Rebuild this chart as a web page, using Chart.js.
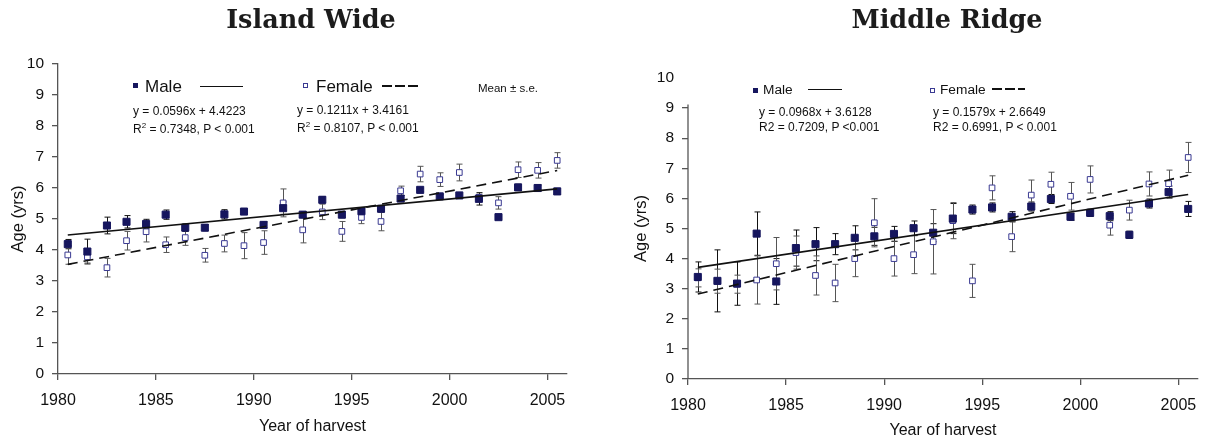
<!DOCTYPE html>
<html lang="en">
<head>
<meta charset="UTF-8">
<title>Age at harvest by year</title>
<script src="https://cdn.jsdelivr.net/npm/chart.js"></script>
<style>
  body { margin: 0; background: #fff; font-family: "Liberation Sans", Arial, sans-serif; }
  #wrap { position: relative; width: 1217px; height: 440px; overflow: hidden; }
  canvas { position: absolute; top: 0; }
  .t { position: absolute; white-space: nowrap; color: #111; line-height: 1; transform: translateY(-50%); }
  .title { position: absolute; white-space: nowrap; font-family: "DejaVu Serif", serif; font-weight: bold;
           font-size: 25.5px; color: #1c1c1c; transform: translate(-50%, -50%); line-height: 1; }
  .sq { position: absolute; width: 5px; height: 5px; box-sizing: border-box; }
  .sq.m { background: #16165e; }
  .sq.f { background: #fff; border: 1px solid #3a3a92; }
  .ln { position: absolute; height: 0; border-top: 1.6px solid #111; }
  .dash { position: absolute; height: 2px;
          background: repeating-linear-gradient(90deg, #111 0 10px, transparent 10px 13px); }
</style>
</head>
<body>
<div id="wrap">
  <canvas id="islandChart" width="608" height="440" style="left:0;width:608px;height:440px"></canvas>
  <canvas id="ridgeChart" width="609" height="440" style="left:608px;width:609px;height:440px"></canvas>

  <div class="title" style="left:311px;top:20px">Island Wide</div>
  <div class="title" style="left:947px;top:20px">Middle Ridge</div>

  <!-- Island Wide legend -->
  <div class="sq m" style="left:133px;top:83px"></div>
  <div class="t" style="left:145px;top:86px;font-size:17px">Male</div>
  <div class="ln" style="left:200px;top:86px;width:43px"></div>
  <div class="sq f" style="left:303px;top:83px"></div>
  <div class="t" style="left:316px;top:86px;font-size:17px">Female</div>
  <div class="dash" style="left:382px;top:85px;width:36px"></div>
  <div class="t" style="left:478px;top:89px;font-size:11.5px">Mean ± s.e.</div>
  <div class="t" style="left:133px;top:111px;font-size:12px">y = 0.0596x + 4.4223</div>
  <div class="t" style="left:133px;top:128px;font-size:12px">R<sup style="font-size:8px;vertical-align:5px">2</sup> = 0.7348, P &lt; 0.001</div>
  <div class="t" style="left:297px;top:110px;font-size:12px">y = 0.1211x + 3.4161</div>
  <div class="t" style="left:297px;top:127px;font-size:12px">R<sup style="font-size:8px;vertical-align:5px">2</sup> = 0.8107, P &lt; 0.001</div>

  <!-- Middle Ridge legend -->
  <div class="sq m" style="left:753px;top:88px"></div>
  <div class="t" style="left:763px;top:90px;font-size:13.7px">Male</div>
  <div class="ln" style="left:808px;top:89px;width:34px"></div>
  <div class="sq f" style="left:930px;top:88px"></div>
  <div class="t" style="left:940px;top:90px;font-size:13.7px">Female</div>
  <div class="dash" style="left:992px;top:88px;width:33px"></div>
  <div class="t" style="left:759px;top:112px;font-size:12px">y = 0.0968x + 3.6128</div>
  <div class="t" style="left:759px;top:127px;font-size:12px">R2 = 0.7209, P &lt;0.001</div>
  <div class="t" style="left:933px;top:112px;font-size:12px">y = 0.1579x + 2.6649</div>
  <div class="t" style="left:933px;top:127px;font-size:12px">R2 = 0.6991, P &lt; 0.001</div>
</div>

<script>
// harvest years (points plotted at mid-year)
const years = [1980, 1981, 1982, 1983, 1984, 1985, 1986, 1987, 1988, 1989, 1990, 1991, 1992,
               1993, 1994, 1995, 1996, 1997, 1998, 1999, 2000, 2001, 2002, 2003, 2004, 2005];

// Island Wide - mean age and s.e.
const islandMale   = [4.19, 3.95, 4.79, 4.91, 4.84, 5.14, 4.72, 4.72, 5.15, 5.24, 4.81, 5.35, 5.14,
                      5.62, 5.14, 5.25, 5.33, 5.66, 5.94, 5.73, 5.76, 5.65, 5.06, 6.02, 6.00, 5.89];
const islandMaleSe = [0.15, 0.40, 0.27, 0.20, 0.15, 0.15, 0.12, 0.10, 0.15, 0.08, 0.10, 0.20, 0.10,
                      0.10, 0.10, 0.10, 0.10, 0.10, 0.05, 0.05, 0.05, 0.20, 0.05, 0.10, 0.10, 0.10];
const islandFemale   = [3.84, 3.78, 3.43, 4.30, 4.59, 4.17, 4.40, 3.83, 4.21, 4.14, 4.24, 5.52, 4.65,
                        5.23, 4.60, 5.05, 4.92, 5.91, 6.45, 6.27, 6.50, 5.70, 5.52, 6.59, 6.57, 6.89];
const islandFemaleSe = [0.30, 0.20, 0.30, 0.30, 0.33, 0.25, 0.25, 0.22, 0.27, 0.42, 0.38, 0.45, 0.42,
                        0.25, 0.32, 0.20, 0.30, 0.15, 0.25, 0.22, 0.27, 0.10, 0.20, 0.25, 0.25, 0.25];
const islandMaleFit   = [0.0596, 4.4223];
const islandFemaleFit = [0.1211, 3.4161];

// Middle Ridge - mean age and s.e.
const ridgeMale   = [3.39, 3.26, 3.17, 4.83, 3.24, 4.35, 4.48, 4.48, 4.69, 4.74, 4.82, 5.01, 4.86,
                     5.33, 5.63, 5.70, 5.39, 5.73, 5.98, 5.39, 5.52, 5.41, 4.79, 5.83, 6.21, 5.65];
const ridgeMaleSe = [0.50, 1.03, 0.72, 0.72, 0.76, 0.60, 0.55, 0.35, 0.40, 0.30, 0.25, 0.24, 0.30,
                     0.50, 0.15, 0.15, 0.17, 0.15, 0.15, 0.12, 0.12, 0.15, 0.12, 0.15, 0.20, 0.25];
const ridgeFemale   = [3.36, 3.25, 3.15, 3.29, 3.83, 4.20, 3.44, 3.19, 4.00, 5.19, 4.00, 4.13, 4.56,
                       5.26, 3.26, 6.35, 4.73, 6.11, 6.47, 6.07, 6.63, 5.11, 5.61, 6.48, 6.49, 7.36];
const ridgeFemaleSe = [0.30, 0.40, 0.30, 0.80, 0.87, 0.55, 0.65, 0.62, 0.60, 0.80, 0.58, 0.63, 1.07,
                       0.60, 0.55, 0.40, 0.50, 0.50, 0.40, 0.46, 0.45, 0.33, 0.33, 0.40, 0.45, 0.50];
const ridgeMaleFit   = [0.0968, 3.6128];
const ridgeFemaleFit = [0.1579, 2.6649];

const yTicks = [0, 1, 2, 3, 4, 5, 6, 7, 8, 9, 10];
const xTicks = [1980, 1985, 1990, 1995, 2000, 2005];

const AXIS = '#555';

// draws the s.e. whiskers behind the markers
const errorBars = {
  id: 'errorBars',
  beforeDatasetsDraw(chart) {
    const { ctx, scales: { x, y } } = chart;
    chart.data.datasets.forEach(ds => {
      if (!ds.errors) return;
      ctx.save();
      ctx.strokeStyle = ds.errorColor;
      ctx.lineWidth = 1;
      ds.data.forEach((p, j) => {
        const px = Math.round(x.getPixelForValue(p.x)) + 0.5;
        const top = y.getPixelForValue(p.y + ds.errors[j]);
        const bot = y.getPixelForValue(p.y - ds.errors[j]);
        ctx.beginPath();
        ctx.moveTo(px, top); ctx.lineTo(px, bot);
        ctx.moveTo(px - 3, top); ctx.lineTo(px + 3, top);
        ctx.moveTo(px - 3, bot); ctx.lineTo(px + 3, bot);
        ctx.stroke();
      });
      ctx.restore();
    });
  }
};

// short y axis line (Middle Ridge panel stops just above 9)
const axisStub = {
  id: 'axisStub',
  afterDraw(chart, args, opts) {
    if (!opts.top) return;
    const { ctx, scales: { y } } = chart;
    const xp = chart.chartArea.left;
    ctx.save();
    ctx.strokeStyle = AXIS;
    ctx.lineWidth = 1.3;
    ctx.beginPath();
    ctx.moveTo(xp, y.getPixelForValue(0));
    ctx.lineTo(xp, y.getPixelForValue(opts.top));
    ctx.stroke();
    ctx.restore();
  }
};

function buildChart(id, cfg) {
  const pts = vals => years.map((yr, i) => ({ x: yr + 0.5, y: vals[i] }));
  const n = years.length;
  const fit = c => [{ x: years[0] + 0.5, y: c[0] * 1 + c[1] }, { x: years[n - 1] + 0.5, y: c[0] * n + c[1] }];

  return new Chart(document.getElementById(id), {
    type: 'scatter',
    data: {
      datasets: [
        { type: 'line', data: fit(cfg.maleFit), borderColor: '#111', borderWidth: 1.6,
          pointRadius: 0, fill: false },
        { type: 'line', data: fit(cfg.femaleFit), borderColor: '#111', borderWidth: 1.6,
          borderDash: [10, 6], pointRadius: 0, fill: false },
        { data: pts(cfg.male), errors: cfg.maleSe, errorColor: '#111',
          pointStyle: 'rect', pointRadius: 5, backgroundColor: '#16165e', borderColor: '#16165e', borderWidth: 1 },
        { data: pts(cfg.female), errors: cfg.femaleSe, errorColor: '#555',
          pointStyle: 'rect', pointRadius: 4, backgroundColor: '#fff', borderColor: '#3a3a92', borderWidth: 1 }
      ]
    },
    options: {
      responsive: false,
      animation: false,
      layout: { padding: cfg.padding },
      plugins: {
        legend: { display: false },
        tooltip: { enabled: false },
        axisStub: { top: cfg.axisTop }
      },
      scales: {
        x: {
          type: 'linear', min: 1980, max: 2006,
          afterFit: s => { s.height = cfg.xHeight; },
          afterBuildTicks: s => { s.ticks = xTicks.map(v => ({ value: v })); },
          border: { color: AXIS, width: 1.3 },
          grid: { drawOnChartArea: false, color: AXIS, lineWidth: 1.3, tickLength: 6 },
          ticks: { color: '#111', padding: cfg.xPad, font: { family: 'Liberation Sans', size: 16 },
                   callback: v => String(v) },
          title: { display: true, text: 'Year of harvest', color: '#111',
                   font: { family: 'Liberation Sans', size: 16 }, padding: { bottom: cfg.xTitlePad } }
        },
        y: {
          min: 0, max: 10,
          afterFit: s => { s.width = cfg.yWidth; },
          afterBuildTicks: s => { s.ticks = yTicks.map(v => ({ value: v })); },
          border: { display: !cfg.axisTop, color: AXIS, width: 1.3 },
          grid: { drawOnChartArea: false, lineWidth: 1.3, tickLength: 6,
                  color: c => (cfg.axisTop && c.tick && c.tick.value > cfg.axisTop) ? 'rgba(0,0,0,0)' : AXIS },
          ticks: { color: '#111', padding: 8, font: { family: 'Liberation Sans', size: 15.5 },
                   callback: v => String(v) },
          title: { display: true, text: 'Age (yrs)', color: '#111',
                   font: { family: 'Liberation Sans', size: 16.5 }, padding: { top: cfg.yTitlePad } }
        }
      }
    },
    plugins: [errorBars, axisStub]
  });
}

buildChart('islandChart', {
  male: islandMale, maleSe: islandMaleSe, female: islandFemale, femaleSe: islandFemaleSe,
  maleFit: islandMaleFit, femaleFit: islandFemaleFit,
  padding: { top: 64, right: 41, left: 0, bottom: 0 },
  yWidth: 58, xHeight: 66, xPad: 11, xTitlePad: 4, yTitlePad: 9, axisTop: 0
});

buildChart('ridgeChart', {
  male: ridgeMale, maleSe: ridgeMaleSe, female: ridgeFemale, femaleSe: ridgeFemaleSe,
  maleFit: ridgeMaleFit, femaleFit: ridgeFemaleFit,
  padding: { top: 78, right: 19, left: 0, bottom: 0 },
  yWidth: 80, xHeight: 61, xPad: 11, xTitlePad: 0, yTitlePad: 24, axisTop: 9.12
});
</script>
</body>
</html>
